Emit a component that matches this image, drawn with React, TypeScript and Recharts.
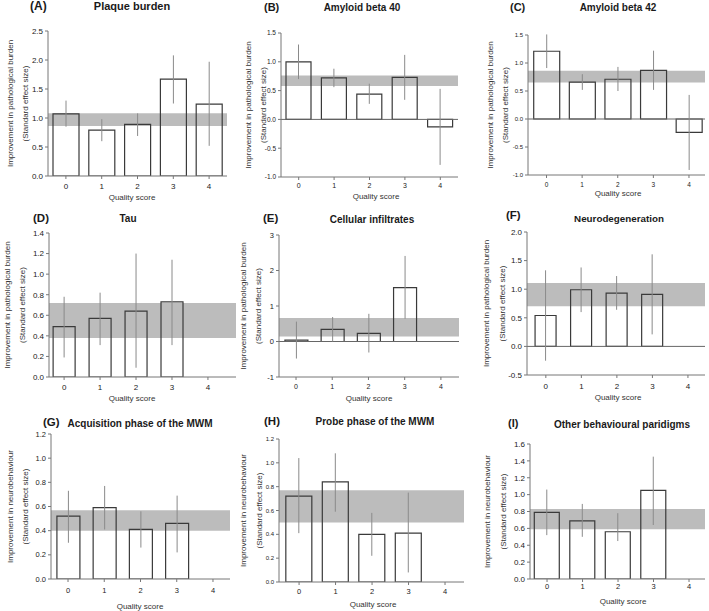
import React from "react"
import {
  ComposedChart,
  Bar,
  ErrorBar,
  XAxis,
  YAxis,
  ReferenceArea,
  ReferenceLine,
} from "recharts"

// quality score categories (x axis)
const qualityScores = [0, 1, 2, 3, 4]

// (A) Plaque burden
const plaqueMean = [1.07, 0.79, 0.89, 1.67, 1.24]
const plaqueLow = [0.85, 0.6, 0.69, 1.25, 0.52]
const plaqueHigh = [1.3, 0.98, 1.08, 2.08, 1.97]
const plaqueBand = [0.86, 1.08]

// (B) Amyloid beta 40
const ab40Mean = [1.0, 0.72, 0.44, 0.73, -0.13]
const ab40Low = [0.7, 0.56, 0.27, 0.34, -0.79]
const ab40High = [1.3, 0.88, 0.62, 1.12, 0.53]
const ab40Band = [0.58, 0.76]

// (C) Amyloid beta 42
const ab42Mean = [1.21, 0.66, 0.71, 0.87, -0.24]
const ab42Low = [0.91, 0.52, 0.5, 0.52, -0.91]
const ab42High = [1.51, 0.8, 0.93, 1.22, 0.43]
const ab42Band = [0.65, 0.86]

// (D) Tau
const tauMean = [0.49, 0.57, 0.64, 0.73]
const tauLow = [0.19, 0.31, 0.09, 0.31]
const tauHigh = [0.78, 0.82, 1.2, 1.14]
const tauBand = [0.38, 0.72]

// (E) Cellular infiltrates
const infilMean = [0.04, 0.34, 0.23, 1.52]
const infilLow = [-0.48, 0.0, -0.31, 0.64]
const infilHigh = [0.56, 0.69, 0.78, 2.41]
const infilBand = [0.14, 0.66]

// (F) Neurodegeneration
const neuroMean = [0.54, 0.99, 0.93, 0.91]
const neuroLow = [-0.25, 0.6, 0.64, 0.21]
const neuroHigh = [1.33, 1.38, 1.23, 1.61]
const neuroBand = [0.7, 1.11]

// (G) Acquisition phase of the MWM
const acqMean = [0.52, 0.59, 0.41, 0.46]
const acqLow = [0.3, 0.41, 0.26, 0.22]
const acqHigh = [0.73, 0.77, 0.56, 0.69]
const acqBand = [0.4, 0.57]

// (H) Probe phase of the MWM
const probeMean = [0.72, 0.84, 0.4, 0.41]
const probeLow = [0.41, 0.59, 0.22, 0.08]
const probeHigh = [1.04, 1.08, 0.58, 0.75]
const probeBand = [0.5, 0.77]

// (I) Other behavioural paradigms
const otherMean = [0.79, 0.69, 0.56, 1.05]
const otherLow = [0.52, 0.5, 0.45, 0.64]
const otherHigh = [1.06, 0.89, 0.78, 1.45]
const otherBand = [0.59, 0.83]

// y tick labels
const ticksA = [0, 0.5, 1, 1.5, 2, 2.5]
const ticksAmyloid = [-1, -0.5, 0, 0.5, 1, 1.5]
const ticksTau = [0, 0.2, 0.4, 0.6, 0.8, 1, 1.2, 1.4]
const ticksInfil = [-1, 0, 1, 2, 3]
const ticksNeuro = [-0.5, 0, 0.5, 1, 1.5, 2]
const ticksMwm = [0, 0.2, 0.4, 0.6, 0.8, 1, 1.2]
const ticksOther = [0, 0.2, 0.4, 0.6, 0.8, 1, 1.2, 1.4, 1.6]

const FONT = "'Liberation Sans', Arial, Helvetica, sans-serif"
const PATH_TITLE = "Improvement in pathological burden"
const BEHAV_TITLE = "Improvement in neurobehaviour"

interface PanelCfg {
  letter: string
  title: string
  yTitle: string
  mean: number[]
  low: number[]
  high: number[]
  band: number[]
  yTicks: number[]
  // layout
  x0: number
  x1: number
  yT: number
  yB: number
  xDomain: [number, number]
  barSize: number
  yFont: number
  xFont: number
  xTickMargin: number
  titleFont: number
  letterFont: number
  zeroLine?: boolean
  intTicks?: boolean
  letterPos: [number, number]
  titlePos: [number, number]
  yTitleOff: [number, number]
  xTitlePos: [number, number]
}

const panels: PanelCfg[] = [
  {
    letter: "(A)", title: "Plaque burden", yTitle: PATH_TITLE,
    mean: plaqueMean, low: plaqueLow, high: plaqueHigh, band: plaqueBand, yTicks: ticksA,
    x0: 48, x1: 227, yT: 31, yB: 176, xDomain: [-0.5, 4.5], barSize: 26,
    yFont: 8, xFont: 8, xTickMargin: 4, titleFont: 11, letterFont: 12,
    letterPos: [30, 6], titlePos: [132, 6], yTitleOff: [38, 23], xTitlePos: [132, 197],
  },
  {
    letter: "(B)", title: "Amyloid beta 40", yTitle: PATH_TITLE,
    mean: ab40Mean, low: ab40Low, high: ab40High, band: ab40Band, yTicks: ticksAmyloid,
    x0: 281, x1: 458, yT: 33, yB: 177, xDomain: [-0.5, 4.5], barSize: 25,
    yFont: 6.5, xFont: 7, xTickMargin: 3, titleFont: 10, letterFont: 11, zeroLine: true,
    letterPos: [264, 7], titlePos: [362, 7], yTitleOff: [33, 18], xTitlePos: [376, 196],
  },
  {
    letter: "(C)", title: "Amyloid beta 42", yTitle: PATH_TITLE,
    mean: ab42Mean, low: ab42Low, high: ab42High, band: ab42Band, yTicks: ticksAmyloid,
    x0: 528, x1: 705, yT: 35, yB: 175, xDomain: [-0.52, 4.45], barSize: 26,
    yFont: 6, xFont: 6.5, xTickMargin: 4, titleFont: 10, letterFont: 11, zeroLine: true,
    letterPos: [510, 7], titlePos: [618, 7], yTitleOff: [38, 23], xTitlePos: [618, 193],
  },
  {
    letter: "(D)", title: "Tau", yTitle: PATH_TITLE,
    mean: tauMean, low: tauLow, high: tauHigh, band: tauBand, yTicks: ticksTau,
    x0: 49, x1: 236, yT: 233, yB: 377, xDomain: [-0.42, 4.78], barSize: 22,
    yFont: 8, xFont: 8, xTickMargin: 4, titleFont: 10, letterFont: 11.5,
    letterPos: [33, 218], titlePos: [128, 218], yTitleOff: [42, 27], xTitlePos: [132, 398],
  },
  {
    letter: "(E)", title: "Cellular infiltrates", yTitle: PATH_TITLE,
    mean: infilMean, low: infilLow, high: infilHigh, band: infilBand, yTicks: ticksInfil,
    x0: 279, x1: 459, yT: 235, yB: 377, xDomain: [-0.47, 4.5], barSize: 23,
    yFont: 7.5, xFont: 7, xTickMargin: 4, titleFont: 10, letterFont: 11.5,
    zeroLine: true, intTicks: true,
    letterPos: [263, 218], titlePos: [372, 219], yTitleOff: [36, 21], xTitlePos: [369, 398],
  },
  {
    letter: "(F)", title: "Neurodegeneration", yTitle: PATH_TITLE,
    mean: neuroMean, low: neuroLow, high: neuroHigh, band: neuroBand, yTicks: ticksNeuro,
    x0: 527, x1: 705, yT: 232, yB: 375, xDomain: [-0.53, 4.48], barSize: 21,
    yFont: 8, xFont: 8, xTickMargin: 5, titleFont: 9.8, letterFont: 11.5, zeroLine: true,
    letterPos: [506, 215], titlePos: [619, 218], yTitleOff: [41, 25], xTitlePos: [618, 397],
  },
  {
    letter: "(G)", title: "Acquisition phase of the MWM", yTitle: BEHAV_TITLE,
    mean: acqMean, low: acqLow, high: acqHigh, band: acqBand, yTicks: ticksMwm,
    x0: 51, x1: 230, yT: 434, yB: 579, xDomain: [-0.47, 4.47], barSize: 23,
    yFont: 7.5, xFont: 7.5, xTickMargin: 6, titleFont: 10, letterFont: 11.5,
    letterPos: [43, 422], titlePos: [140, 423], yTitleOff: [41, 26], xTitlePos: [140, 606],
  },
  {
    letter: "(H)", title: "Probe phase of the MWM", yTitle: BEHAV_TITLE,
    mean: probeMean, low: probeLow, high: probeHigh, band: probeBand, yTicks: ticksMwm,
    x0: 279, x1: 464, yT: 439, yB: 582, xDomain: [-0.55, 4.52], barSize: 26,
    yFont: 6, xFont: 7.5, xTickMargin: 4, titleFont: 10, letterFont: 11.5,
    letterPos: [264, 421], titlePos: [375, 421], yTitleOff: [36, 20], xTitlePos: [373, 604],
  },
  {
    letter: "(I)", title: "Other behavioural paridigms", yTitle: BEHAV_TITLE,
    mean: otherMean, low: otherLow, high: otherHigh, band: otherBand, yTicks: ticksOther,
    x0: 530, x1: 705, yT: 444, yB: 579, xDomain: [-0.48, 4.45], barSize: 25,
    yFont: 8, xFont: 7.5, xTickMargin: 2, titleFont: 10, letterFont: 11,
    letterPos: [508, 423], titlePos: [622, 424], yTitleOff: [43, 27], xTitlePos: [623, 601],
  },
]

const L = 40
const T = 6
const R = 4
const B = 30

function Panel({ cfg }: { cfg: PanelCfg }) {
  const w = cfg.x1 - cfg.x0
  const h = cfg.yB - cfg.yT
  const data = cfg.mean.map((m, i) => ({
    q: qualityScores[i],
    mean: m,
    err: [m - cfg.low[i], cfg.high[i] - m],
  }))
  const fmt = (v: number) => (cfg.intTicks ? String(v) : v.toFixed(1))

  return (
    <div style={{ position: "absolute", left: cfg.x0 - L, top: cfg.yT - T }}>
      <ComposedChart
        width={L + w + R}
        height={T + h + B}
        data={data}
        margin={{ top: T, right: R, bottom: 0, left: 0 }}
      >
        <ReferenceArea
          y1={cfg.band[0]}
          y2={cfg.band[1]}
          fill="#bcbcbc"
          fillOpacity={1}
          stroke="none"
        />
        <XAxis
          type="number"
          dataKey="q"
          domain={cfg.xDomain}
          ticks={qualityScores}
          interval={0}
          allowDataOverflow
          height={B}
          tickSize={3}
          tickMargin={cfg.xTickMargin}
          stroke="#777"
          tick={{ fontSize: cfg.xFont, fill: "#222", fontFamily: FONT }}
        />
        <YAxis
          type="number"
          domain={[cfg.yTicks[0], cfg.yTicks[cfg.yTicks.length - 1]]}
          ticks={cfg.yTicks}
          interval={0}
          allowDataOverflow
          width={L}
          tickSize={3}
          tickMargin={2}
          tickFormatter={fmt}
          stroke="#777"
          tick={{ fontSize: cfg.yFont, fill: "#222", fontFamily: FONT }}
        />
        {cfg.zeroLine && <ReferenceLine y={0} stroke="#666" strokeWidth={1} />}
        <Bar
          dataKey="mean"
          barSize={cfg.barSize}
          fill="none"
          stroke="#3a3a3a"
          strokeWidth={1.2}
          isAnimationActive={false}
        >
          <ErrorBar dataKey="err" width={0} stroke="#8a8a8a" strokeWidth={1} direction="y" />
        </Bar>
      </ComposedChart>
    </div>
  )
}

function Labels() {
  return (
    <svg
      width={709}
      height={611}
      style={{ position: "absolute", left: 0, top: 0, pointerEvents: "none" }}
      fontFamily={FONT}
    >
      {panels.map((p) => {
        const cy = (p.yT + p.yB) / 2
        const t1x = p.x0 - p.yTitleOff[0]
        const t2x = p.x0 - p.yTitleOff[1]
        return (
          <g key={p.letter}>
            <text x={p.letterPos[0]} y={p.letterPos[1]} fontSize={p.letterFont} fontWeight="bold" fill="#1a1a1a" dominantBaseline="central">
              {p.letter}
            </text>
            <text x={p.titlePos[0]} y={p.titlePos[1]} fontSize={p.titleFont} fontWeight="bold" fill="#1a1a1a" textAnchor="middle" dominantBaseline="central">
              {p.title}
            </text>
            <text x={t1x} y={cy} fontSize={8} fill="#333" textAnchor="middle" dominantBaseline="central" transform={`rotate(-90 ${t1x} ${cy})`}>
              {p.yTitle}
            </text>
            <text x={t2x} y={cy} fontSize={8} fill="#333" textAnchor="middle" dominantBaseline="central" transform={`rotate(-90 ${t2x} ${cy})`}>
              (Standard effect size)
            </text>
            <text x={p.xTitlePos[0]} y={p.xTitlePos[1]} fontSize={8} fill="#333" textAnchor="middle" dominantBaseline="central">
              Quality score
            </text>
          </g>
        )
      })}
    </svg>
  )
}

export default function App() {
  return (
    <div
      style={{
        position: "absolute",
        left: 0,
        top: 0,
        width: 709,
        height: 611,
        background: "#fff",
        fontFamily: FONT,
        overflow: "hidden",
      }}
    >
      {panels.map((p) => (
        <Panel key={p.letter} cfg={p} />
      ))}
      <Labels />
    </div>
  )
}
